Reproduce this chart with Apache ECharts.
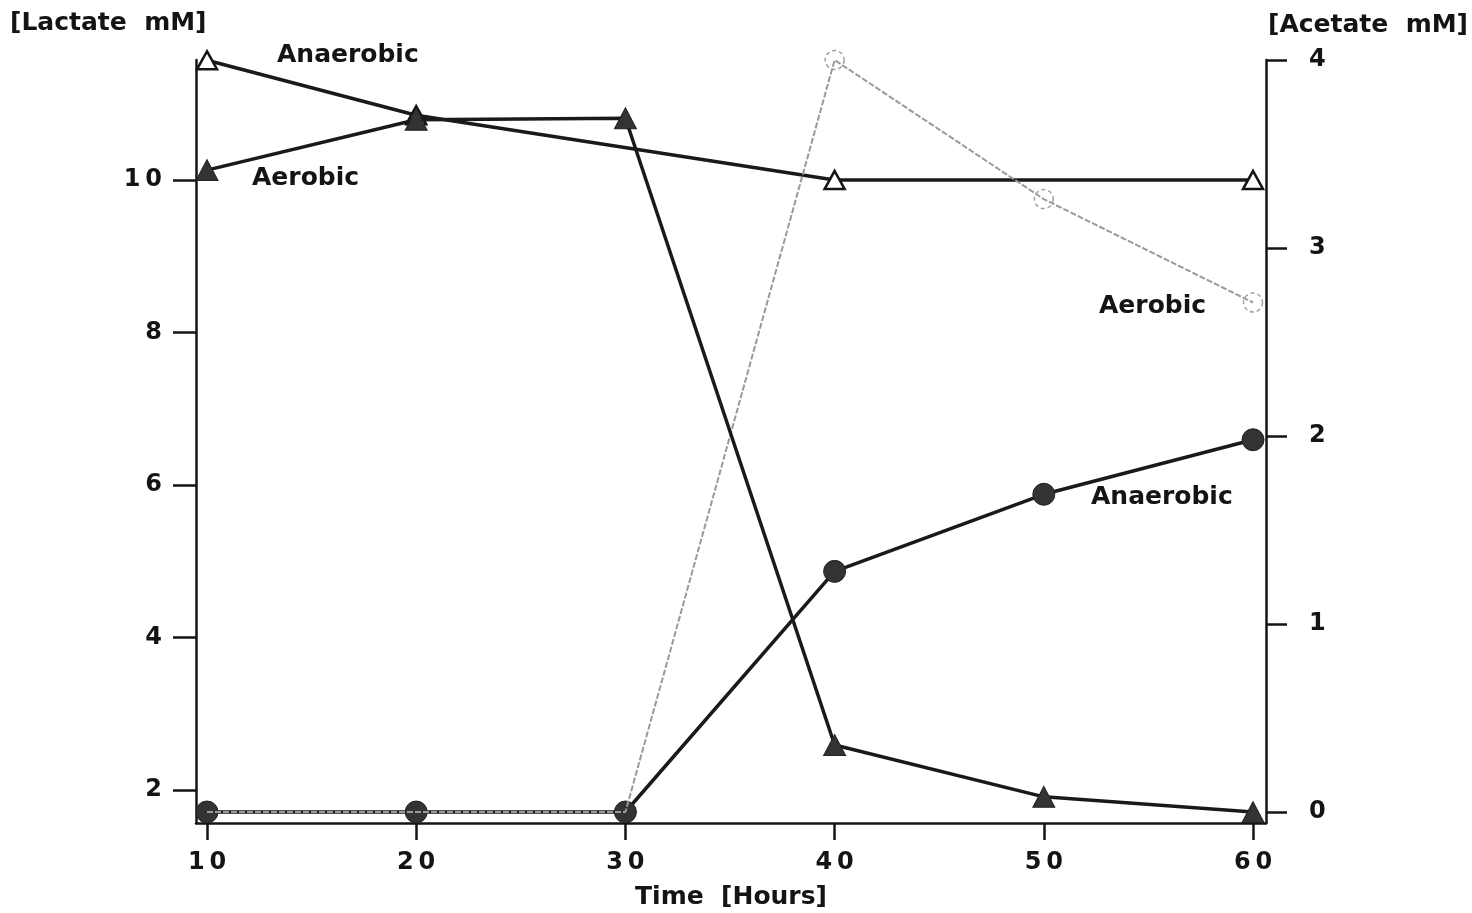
<!DOCTYPE html>
<html>
<head>
<meta charset="utf-8">
<title>Lactate and acetate over time</title>
<script src="https://cdn.jsdelivr.net/npm/echarts@6/dist/echarts.min.js"></script>
<style>
  html, body { margin: 0; padding: 0; background: #fff; }
  #chart { width: 1472px; height: 913px; }
</style>
</head>
<body>
<div id="chart"></div>
<script>
// Sampling times (hours)
const hours = [10, 20, 30, 40, 50, 60];

// Lactate (mM), left axis; null = no measurement drawn at that time
const lactateAnaerobic = [11.57, 10.85, null, 10.0, null, 10.0];
const lactateAerobic   = [10.13, 10.79, 10.81, 2.59, 1.91, 1.71];

// Acetate (mM), right axis
const acetateAnaerobic = [0, 0, 0, 1.28, 1.69, 1.98];
const acetateAerobic   = [0, 0, 0, 4.0, 3.26, 2.71];

// Tick values
const xTicks = [10, 20, 30, 40, 50, 60];
const lactateTicks = [2, 4, 6, 8, 10];
const acetateTicks = [0, 1, 2, 3, 4];

const FONT = 'DejaVu Sans';
const INK = '#141414';
const TEXT_FONT = 'bold 25px "DejaVu Sans"';

function pairs(xs, ys) {
  const out = [];
  xs.forEach((x, i) => { if (ys[i] !== null) out.push([x, ys[i]]); });
  return out;
}

// Open markers are left off where the aerobic acetate curve sits on zero
// (the filled anaerobic circles mark those times)
function openMarkersAboveZero(points) {
  return points.map(p => p[1] === 0 ? { value: p, symbol: 'none' } : p);
}

const spaced = v => String(v).split('').join('\u2009');

const tickLabel = (size) => ({
  fontFamily: FONT, fontSize: size, fontWeight: 'bold', color: INK
});

const chart = echarts.init(document.getElementById('chart'), null, { renderer: 'canvas' });

chart.setOption({
  animation: false,
  backgroundColor: '#fff',
  grid: { left: 196, right: 206, top: 60, bottom: 90, containLabel: false,
          outerBoundsMode: 'none' },
  xAxis: {
    type: 'value',
    min: 9.474, max: 60.62,
    name: 'Time  [Hours]',
    nameLocation: 'middle',
    nameGap: 62,
    nameTextStyle: { fontFamily: FONT, fontSize: 25, fontWeight: 'bold', color: INK },
    splitLine: { show: false },
    axisLine: { show: true, onZero: false, lineStyle: { color: INK, width: 2.5 } },
    axisTick: { show: true, inside: false, length: 17, customValues: xTicks,
                lineStyle: { color: INK, width: 2.5 } },
    axisLabel: { show: true, customValues: xTicks, margin: 28,
                 formatter: spaced, ...tickLabel(24) }
  },
  yAxis: [
    {
      type: 'value', position: 'left',
      min: 1.567, max: 11.574,
      splitLine: { show: false },
      axisLine: { show: true, onZero: false, lineStyle: { color: INK, width: 2.5 } },
      axisTick: { show: true, inside: false, length: 23, customValues: lactateTicks,
                  lineStyle: { color: INK, width: 2.5 } },
      axisLabel: { show: true, customValues: lactateTicks, margin: 34,
                   formatter: spaced, ...tickLabel(24) }
    },
    {
      type: 'value', position: 'right',
      min: -0.0585, max: 4.0,
      splitLine: { show: false },
      axisLine: { show: true, onZero: false, lineStyle: { color: INK, width: 2.5 } },
      axisTick: { show: true, inside: false, length: 21, customValues: acetateTicks,
                  lineStyle: { color: INK, width: 2.5 } },
      axisLabel: { show: true, customValues: acetateTicks, margin: 43,
                   ...tickLabel(24) }
    }
  ],
  series: [
    {
      name: 'Acetate anaerobic',
      type: 'line', yAxisIndex: 1, z: 3,
      data: pairs(hours, acetateAnaerobic),
      symbol: 'circle', symbolSize: 22,
      itemStyle: { color: '#333', borderColor: '#222', borderWidth: 1 },
      lineStyle: { color: '#1a1a1a', width: 3.5 }
    },
    {
      name: 'Acetate aerobic',
      type: 'line', yAxisIndex: 1, z: 4,
      data: openMarkersAboveZero(pairs(hours, acetateAerobic)),
      symbol: 'circle', symbolSize: 19,
      itemStyle: { color: 'rgba(255,255,255,0)', borderColor: '#a0a0a0', borderWidth: 1.5,
                   borderType: [4, 3] },
      lineStyle: { color: '#9a9a9a', width: 2, type: [6, 2] }
    },
    {
      name: 'Lactate anaerobic',
      type: 'line', yAxisIndex: 0, z: 3,
      data: pairs(hours, lactateAnaerobic),
      symbol: 'triangle', symbolSize: [20, 18],
      itemStyle: { color: '#fff', borderColor: INK, borderWidth: 2.5 },
      lineStyle: { color: '#1a1a1a', width: 3.5 }
    },
    {
      name: 'Lactate aerobic',
      type: 'line', yAxisIndex: 0, z: 5,
      data: pairs(hours, lactateAerobic),
      symbol: 'triangle', symbolSize: [22, 21],
      itemStyle: { color: '#333', borderColor: '#222', borderWidth: 1 },
      lineStyle: { color: '#1a1a1a', width: 3.5 }
    }
  ],
  graphic: [
    { type: 'text', left: 10, top: 11,
      style: { text: '[Lactate  mM]', font: TEXT_FONT, fill: INK } },
    { type: 'text', left: 1268, top: 13,
      style: { text: '[Acetate  mM]', font: TEXT_FONT, fill: INK } },
    { type: 'text', left: 277, top: 43,
      style: { text: 'Anaerobic', font: TEXT_FONT, fill: INK } },
    { type: 'text', left: 252, top: 166,
      style: { text: 'Aerobic', font: TEXT_FONT, fill: INK } },
    { type: 'text', left: 1099, top: 294,
      style: { text: 'Aerobic', font: TEXT_FONT, fill: INK } },
    { type: 'text', left: 1091, top: 485,
      style: { text: 'Anaerobic', font: TEXT_FONT, fill: INK } }
  ]
});
</script>
</body>
</html>
